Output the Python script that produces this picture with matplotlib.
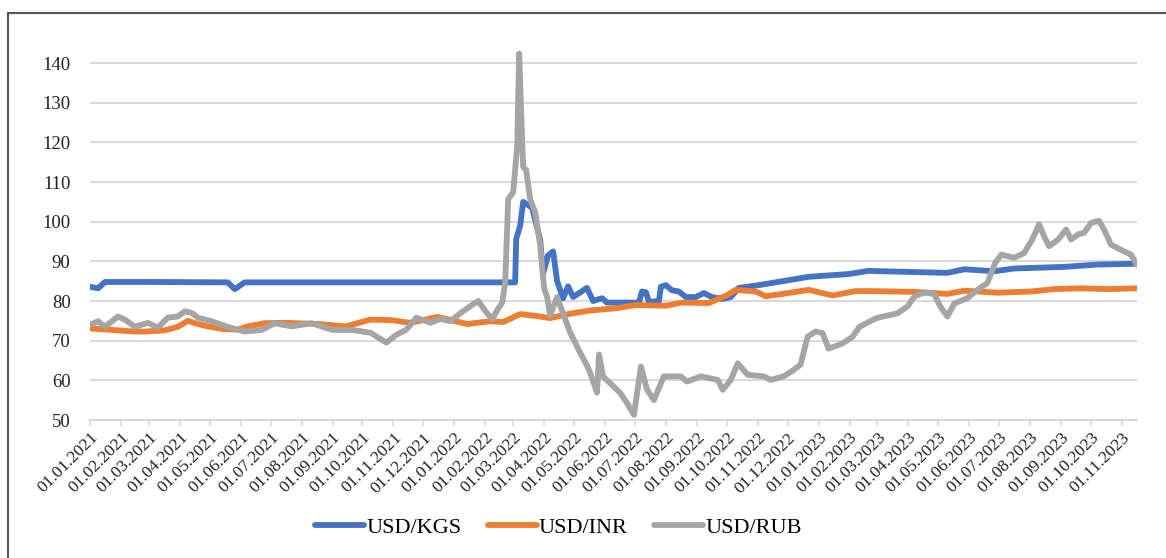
import pandas as pd
import matplotlib.pyplot as plt
import matplotlib.dates as mdates
from matplotlib.patches import Rectangle

plt.rcParams['font.family'] = ['Liberation Serif', 'DejaVu Serif']

# USD/KGS
kgs_dates = ['2021-01-01', '2021-01-09', '2021-01-16', '2021-03-01', '2021-05-19', '2021-05-26',
             '2021-06-05', '2021-09-01', '2022-01-01', '2022-03-03', '2022-03-04', '2022-03-08',
             '2022-03-11', '2022-03-20', '2022-03-28', '2022-03-31', '2022-04-05', '2022-04-10',
             '2022-04-14', '2022-04-20', '2022-04-25', '2022-04-30', '2022-05-14', '2022-05-20',
             '2022-05-29', '2022-06-03', '2022-07-05', '2022-07-08', '2022-07-12', '2022-07-15',
             '2022-07-25', '2022-07-27', '2022-08-01', '2022-08-07', '2022-08-14', '2022-08-21',
             '2022-08-31', '2022-09-08', '2022-09-16', '2022-09-27', '2022-10-05', '2022-10-13',
             '2022-11-02', '2022-11-26', '2022-12-22', '2023-01-31', '2023-02-20', '2023-03-05',
             '2023-05-10', '2023-05-27', '2023-06-26', '2023-07-16', '2023-09-04', '2023-10-08',
             '2023-11-16']
kgs_vals = [83.6, 83.2, 84.8, 84.8, 84.7, 83.0,
            84.7, 84.7, 84.7, 84.7, 95.6, 99.0,
            105.0, 103.5, 95.5, 87.0, 91.5, 92.5,
            85.0, 80.7, 83.7, 81.0, 83.3, 80.0,
            80.7, 79.6, 79.6, 82.4, 82.2, 79.8,
            80.0, 83.6, 84.0, 82.7, 82.4, 81.0,
            81.0, 82.0, 81.0, 80.5, 81.0, 83.3,
            84.0, 85.0, 86.1, 86.8, 87.6, 87.5,
            87.1, 88.0, 87.5, 88.2, 88.6, 89.2,
            89.4]

# USD/INR
inr_dates = ['2021-01-01', '2021-02-15', '2021-02-25', '2021-03-17', '2021-03-30', '2021-04-09',
             '2021-04-19', '2021-04-29', '2021-05-16', '2021-05-29', '2021-06-08', '2021-06-25',
             '2021-07-15', '2021-08-18', '2021-09-14', '2021-10-09', '2021-10-29', '2021-11-18',
             '2021-12-15', '2022-01-14', '2022-02-06', '2022-02-19', '2022-03-08', '2022-03-25',
             '2022-04-07', '2022-04-27', '2022-05-17', '2022-06-13', '2022-07-02', '2022-08-01',
             '2022-08-17', '2022-09-13', '2022-09-30', '2022-10-10', '2022-10-30', '2022-11-09',
             '2022-11-26', '2022-12-22', '2023-01-15', '2023-02-07', '2023-02-24', '2023-04-06',
             '2023-05-10', '2023-05-27', '2023-06-29', '2023-08-02', '2023-08-25', '2023-09-21',
             '2023-10-18', '2023-11-16']
inr_vals = [73.1, 72.3, 72.3, 72.6, 73.5, 75.0,
            74.2, 73.6, 72.9, 72.8, 73.6, 74.4,
            74.5, 74.2, 73.6, 75.3, 75.2, 74.5,
            76.0, 74.2, 74.9, 74.7, 76.7, 76.2,
            75.7, 76.8, 77.6, 78.2, 79.0, 78.8,
            79.6, 79.5, 81.3, 82.8, 82.4, 81.2,
            81.8, 82.8, 81.4, 82.5, 82.5, 82.3,
            81.8, 82.6, 82.1, 82.4, 83.0, 83.2,
            83.0, 83.2]

# USD/RUB
rub_dates = ['2021-01-01', '2021-01-09', '2021-01-16', '2021-01-29', '2021-02-05', '2021-02-15',
             '2021-02-28', '2021-03-10', '2021-03-20', '2021-03-30', '2021-04-06', '2021-04-13',
             '2021-04-19', '2021-05-03', '2021-05-19', '2021-06-05', '2021-06-22', '2021-07-05',
             '2021-07-22', '2021-08-11', '2021-09-01', '2021-09-21', '2021-10-09', '2021-10-25',
             '2021-11-04', '2021-11-14', '2021-11-24', '2021-12-08', '2021-12-18', '2021-12-28',
             '2022-01-07', '2022-01-17', '2022-01-25', '2022-02-01', '2022-02-08', '2022-02-13',
             '2022-02-18', '2022-02-21', '2022-02-24', '2022-03-01', '2022-03-05', '2022-03-07',
             '2022-03-10', '2022-03-11', '2022-03-14', '2022-03-18', '2022-03-23', '2022-03-28',
             '2022-04-01', '2022-04-04', '2022-04-07', '2022-04-14', '2022-04-27', '2022-05-07',
             '2022-05-14', '2022-05-17', '2022-05-24', '2022-05-26', '2022-05-30', '2022-06-06',
             '2022-06-16', '2022-06-23', '2022-06-30', '2022-07-07', '2022-07-13', '2022-07-20',
             '2022-07-30', '2022-08-16', '2022-08-22', '2022-09-05', '2022-09-22', '2022-09-27',
             '2022-10-05', '2022-10-12', '2022-10-22', '2022-11-07', '2022-11-14', '2022-11-27',
             '2022-12-07', '2022-12-14', '2022-12-21', '2022-12-29', '2023-01-05', '2023-01-11',
             '2023-01-25', '2023-02-04', '2023-02-11', '2023-02-28', '2023-03-21', '2023-03-31',
             '2023-04-07', '2023-04-17', '2023-04-27', '2023-05-03', '2023-05-10', '2023-05-17',
             '2023-05-30', '2023-06-09', '2023-06-19', '2023-06-27', '2023-07-03', '2023-07-16',
             '2023-07-26', '2023-08-03', '2023-08-10', '2023-08-15', '2023-08-20', '2023-08-29',
             '2023-09-06', '2023-09-11', '2023-09-18', '2023-09-24', '2023-10-01', '2023-10-09',
             '2023-10-14', '2023-10-21', '2023-10-31', '2023-11-10', '2023-11-16']
rub_vals = [74.0, 74.9, 73.5, 76.1, 75.3, 73.5,
            74.5, 73.3, 75.8, 76.1, 77.4, 77.0,
            75.8, 74.9, 73.5, 72.3, 72.7, 74.4,
            73.6, 74.4, 72.7, 72.7, 72.0, 69.5,
            71.5, 72.8, 75.8, 74.5, 75.5, 74.9,
            76.9, 78.7, 80.0, 77.5, 75.4, 77.7,
            79.6, 84.6, 105.7, 107.4, 119.0, 142.4,
            120.4, 113.8, 113.0, 105.7, 102.4, 94.0,
            83.2, 81.0, 76.3, 81.0, 72.1, 67.0,
            63.7, 62.0, 56.9, 66.5, 61.0, 59.3,
            56.9, 54.3, 51.3, 63.5, 57.7, 55.0,
            61.0, 61.0, 59.7, 61.0, 60.1, 57.6,
            60.1, 64.3, 61.4, 61.0, 60.1, 61.0,
            62.6, 64.0, 71.0, 72.3, 71.9, 68.0,
            69.3, 71.0, 73.5, 75.7, 76.9, 78.6,
            81.1, 82.2, 81.7, 78.6, 76.1, 79.4,
            80.7, 82.8, 84.5, 89.6, 91.7, 90.9,
            92.1, 95.5, 99.3, 96.3, 93.8, 95.5,
            98.0, 95.5, 96.8, 97.2, 99.7, 100.2,
            98.0, 94.2, 92.9, 91.7, 89.1]

fig = plt.figure(figsize=(11.66, 5.58), dpi=100)
ax = fig.add_axes([0.0772, 0.2473, 0.8979, 0.6753])

ax.plot(pd.to_datetime(kgs_dates), kgs_vals, color='#4472C4', lw=4.2, label='USD/KGS',
        solid_capstyle='round', solid_joinstyle='round')
ax.plot(pd.to_datetime(inr_dates), inr_vals, color='#ED7D31', lw=4.2, label='USD/INR',
        solid_capstyle='round', solid_joinstyle='round')
ax.plot(pd.to_datetime(rub_dates), rub_vals, color='#A5A5A5', lw=4.2, label='USD/RUB',
        solid_capstyle='round', solid_joinstyle='round')

ax.set_xlim(pd.Timestamp('2021-01-01'), pd.Timestamp('2023-11-16'))
ax.set_ylim(50, 145)
ax.set_yticks(range(50, 141, 10))
ax.yaxis.grid(True, color='#D9D9D9', lw=1.5)
ax.set_axisbelow(True)

ax.xaxis.set_major_locator(mdates.MonthLocator())
ax.xaxis.set_major_formatter(mdates.DateFormatter('%d.%m.%Y'))
plt.setp(ax.get_xticklabels(), rotation=45, ha='right', va='top', rotation_mode='anchor')

for s in ['top', 'right', 'left']:
    ax.spines[s].set_visible(False)
ax.spines['bottom'].set_color('#D9D9D9')
ax.spines['bottom'].set_linewidth(1.5)
ax.tick_params(axis='x', colors='#D9D9D9', length=4, width=1.2, labelcolor='#222222',
               labelsize=12.5, pad=3)
ax.tick_params(axis='y', length=0, labelcolor='#222222', labelsize=13.5, pad=14)

fig.legend(loc='center', bbox_to_anchor=(0.479, 0.054), ncol=3, frameon=False, fontsize=16,
           handlelength=2.2, handletextpad=0.1, columnspacing=1.2)

fig.patches.append(Rectangle((8 / 1166, -0.1), 1.2, (558 - 13) / 558 + 0.1,
                             transform=fig.transFigure, fill=False,
                             edgecolor='#555555', lw=1.5))

fig.savefig('out.png', dpi=100)
